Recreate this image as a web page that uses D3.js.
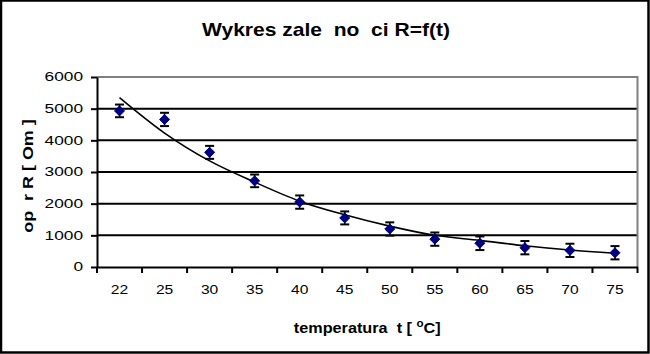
<!DOCTYPE html>
<html>
<head>
<meta charset="utf-8">
<script src="https://cdn.jsdelivr.net/npm/d3@7"></script>
<style>
body{margin:0;background:#fff;}
svg{display:block;font-family:"Liberation Sans",Arial,sans-serif;}
</style>
</head>
<body>
<div id="wrapper"></div>
<script>
// Data
const temps = ['22','25','30','35','40','45','50','55','60','65','70','75'];
const resist = [4930, 4660, 3620, 2720, 2050, 1550, 1200, 880, 750, 610, 525, 450];
const errors = [200, 210, 205, 200, 210, 205, 210, 210, 215, 210, 210, 210];
const trend = [5350, 4230, 3350, 2680, 2080, 1650, 1290, 1000, 840, 670, 535, 432];
const yTicks = [0, 1000, 2000, 3000, 4000, 5000, 6000];

// Dimension
const dimension = {width: 650, height: 354,
    margin: {top: 77, bottom: 87, left: 97, right: 12.5}};
dimension.boundWidth = dimension.width - dimension.margin.left - dimension.margin.right;
dimension.boundHeight = dimension.height - dimension.margin.top - dimension.margin.bottom;

// stretch text horizontally (the original's lettering is wider than Liberation Sans)
const stretch = (sel, k) => sel.each(function() {
    const len = this.getComputedTextLength();
    d3.select(this).attr('textLength', len * k).attr('lengthAdjust', 'spacingAndGlyphs');
});

// Canvas
const wrapper = d3.select('#wrapper').append('svg')
    .attr('width', dimension.width).attr('height', dimension.height);
wrapper.append('rect').attr('x', 1).attr('y', 0.5)
    .attr('width', dimension.width - 2.5).attr('height', dimension.height - 2)
    .attr('fill', '#fff').attr('stroke', '#000').attr('stroke-width', 2.5);

const bounds = wrapper.append('g')
    .attr('transform', `translate(${dimension.margin.left},${dimension.margin.top})`);

// Scales
const xScale = d3.scaleBand().domain(temps).range([0, dimension.boundWidth]).padding(0);
const yScale = d3.scaleLinear().domain([0, 6000]).range([dimension.boundHeight, 0]);
const xCenter = (d, i) => xScale(temps[i]) + xScale.bandwidth() / 2;

// Gridlines
bounds.append('g').selectAll('line').data(yTicks.filter(d => d > 0 && d < 6000))
    .enter().append('line')
    .attr('x1', 0).attr('x2', dimension.boundWidth)
    .attr('y1', d => yScale(d)).attr('y2', d => yScale(d))
    .attr('stroke', '#000').attr('stroke-width', 2);
// plot area border (top/right)
bounds.append('path')
    .attr('d', `M0,${yScale(6000)}H${dimension.boundWidth}V${dimension.boundHeight}`)
    .attr('fill', 'none').attr('stroke', '#808080').attr('stroke-width', 2);

// Y axis
const yAxis = bounds.append('g')
    .call(d3.axisLeft(yScale).tickValues(yTicks).tickFormat(d3.format('d'))
        .tickSize(6).tickSizeOuter(0).tickPadding(8));
yAxis.select('.domain').attr('stroke-width', 2);
yAxis.selectAll('.tick line').attr('stroke-width', 2);
yAxis.selectAll('text').attr('font-size', 12).attr('fill', '#000')
    .attr('font-family', '"Liberation Sans",Arial,sans-serif').call(stretch, 1.44);

// X axis
const xAxis = bounds.append('g').attr('transform', `translate(0,${dimension.boundHeight})`)
    .call(d3.axisBottom(xScale).tickSize(0).tickSizeOuter(0).tickPadding(18));
xAxis.select('.domain').attr('stroke-width', 2);
xAxis.selectAll('text').attr('font-size', 12).attr('fill', '#000')
    .attr('font-family', '"Liberation Sans",Arial,sans-serif').call(stretch, 1.3);
xAxis.append('g').selectAll('line').data(temps.map(t => xScale(t)).concat([dimension.boundWidth]))
    .enter().append('line')
    .attr('x1', d => d).attr('x2', d => d).attr('y1', 0).attr('y2', 6)
    .attr('stroke', '#000').attr('stroke-width', 2);

// Trend line
const trendLine = d3.line().x(xCenter).y(d => yScale(d)).curve(d3.curveMonotoneX);
bounds.append('path').datum(trend).attr('d', trendLine)
    .attr('fill', 'none').attr('stroke', '#000').attr('stroke-width', 1.6);

// Error bars
const errG = bounds.append('g').selectAll('g').data(resist).enter().append('g');
errG.append('line')
    .attr('x1', xCenter).attr('x2', xCenter)
    .attr('y1', (d, i) => yScale(d + errors[i])).attr('y2', (d, i) => yScale(d - errors[i]))
    .attr('stroke', '#000').attr('stroke-width', 1.5);
[1, -1].forEach(s => {
    errG.append('line')
        .attr('x1', (d, i) => xCenter(d, i) - 4.5).attr('x2', (d, i) => xCenter(d, i) + 4.5)
        .attr('y1', (d, i) => yScale(d + s * errors[i])).attr('y2', (d, i) => yScale(d + s * errors[i]))
        .attr('stroke', '#000').attr('stroke-width', 2);
});

// Markers
bounds.append('g').selectAll('path').data(resist).enter().append('path')
    .attr('d', d3.symbol(d3.symbolDiamond2, 64))
    .attr('transform', (d, i) => `translate(${xCenter(d, i)},${yScale(d)})`)
    .attr('fill', '#000080').attr('stroke', '#000080').attr('stroke-width', 1);

// Title & labels
wrapper.append('text').attr('x', 326).attr('y', 36).attr('text-anchor', 'middle')
    .attr('font-size', 19).attr('font-weight', 'bold').style('white-space', 'pre')
    .attr('textLength', 248).attr('lengthAdjust', 'spacingAndGlyphs')
    .text('Wykres zale  no  ci R=f(t)');

wrapper.append('text')
    .attr('transform', `translate(33,${dimension.margin.top + dimension.boundHeight / 2 + 4}) rotate(-90)`)
    .attr('text-anchor', 'middle').attr('font-size', 14).attr('font-weight', 'bold')
    .style('white-space', 'pre').text('op  r R [ Om ]').call(stretch, 1.28);

const xLabel = wrapper.append('g')
    .attr('transform', `translate(${dimension.margin.left + dimension.boundWidth / 2},333) scale(1.16,1)`)
    .append('text').attr('text-anchor', 'middle').attr('font-size', 14).attr('font-weight', 'bold')
    .style('white-space', 'pre');
xLabel.append('tspan').text('temperatura  t [ ');
xLabel.append('tspan').attr('dy', -6).attr('font-size', 10).text('o');
xLabel.append('tspan').attr('dy', 6).text('C]');
</script>
</body>
</html>
